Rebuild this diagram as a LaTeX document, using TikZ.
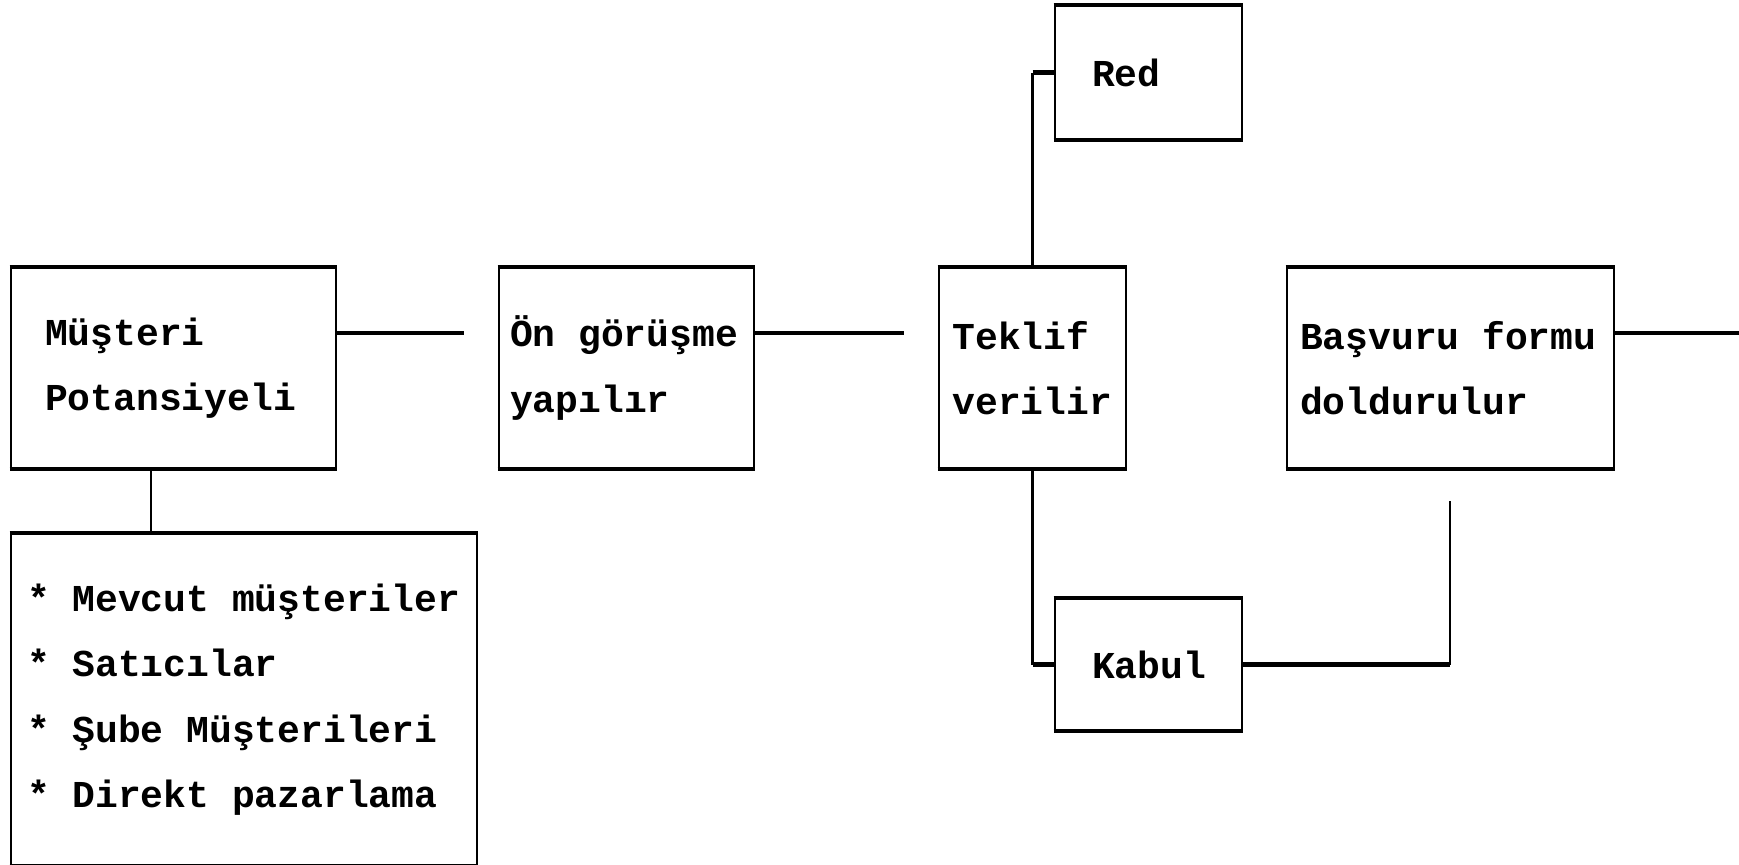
\documentclass[tikz,border=0pt]{standalone}
\usepackage{fontspec}
\setmainfont{Liberation Mono}
\newcommand\boxfontx{\fontsize{19pt}{32.7pt}\selectfont\bfseries}
\begin{document}
\begin{tikzpicture}[x=0.5pt,y=-0.5pt,
  box/.style={draw, line width=1.3pt, inner ysep=0pt, align=left, font=\boxfontx,
    execute at begin node={\spaceskip=11.4pt\relax\xspaceskip=11.4pt\relax}},
  hbar/.style={line width=2.1pt},
  vbar/.style={line width=1.3pt}]
\path[use as bounding box] (0,0) rectangle (1739,864);
% boxes
\node[box, minimum width=162.5pt, minimum height=100pt, text width=128.5pt, inner xsep=17pt] (mp) at (173.5,368) {Müşteri\\Potansiyeli};
\node[box, minimum width=127.5pt, minimum height=100pt, text width=116.5pt, inner xsep=5.5pt] (og) at (626.5,368) {Ön görüşme\\yapılır};
\node[box, minimum width=93.5pt, minimum height=100pt, text width=80pt, inner xsep=6.75pt] (tv) at (1032.5,368) {Teklif\\verilir};
\node[box, minimum width=163.5pt, minimum height=100pt, text width=150.5pt, inner xsep=6.5pt] (bf) at (1450.5,368) {Başvuru formu\\doldurulur};
\node[box, minimum width=93.5pt, minimum height=66.5pt, text width=56.5pt, inner xsep=18.5pt] (red) at (1148.5,72.5) {Red};
\node[box, minimum width=93.5pt, minimum height=65.5pt, text width=56.5pt, inner xsep=18.5pt] (kab) at (1148.5,664.5) {Kabul};
\node[box, minimum width=233pt, minimum height=165.5pt, text width=217pt, inner xsep=8pt] (list) at (244,699.5) {* Mevcut müşteriler\\{*} Satıcılar\\{*} Şube Müşterileri\\{*} Direkt pazarlama};
% thicker horizontal borders
\foreach \n in {mp,og,tv,bf,red,kab,list}
  \draw[hbar] (\n.north west) -- (\n.north east) (\n.south west) -- (\n.south east);
% free ends
\coordinate (e1) at (464,333);
\coordinate (e2) at (904,333);
\coordinate (e3) at (1739,333);
\coordinate (e4) at (1450,501);
\coordinate (d) at (151,500);
% connectors
\draw[hbar] (e1 -| mp.east) -- (e1);
\draw[hbar] (e2 -| og.east) -- (e2);
\draw[hbar] (e3 -| bf.east) -- (e3);
\draw[vbar] (d |- mp.south) -- (d |- list.north);
\draw[vbar] (tv.north) -- (tv.north |- red.west);
\draw[hbar] (tv.north |- red.west) -- (red.west);
\draw[vbar] (tv.south) -- (tv.south |- kab.west);
\draw[hbar] (tv.south |- kab.west) -- (kab.west);
\draw[hbar] (kab.east) -- (kab.east -| e4);
\draw[vbar] (kab.east -| e4) -- (e4);
\end{tikzpicture}
\end{document}
